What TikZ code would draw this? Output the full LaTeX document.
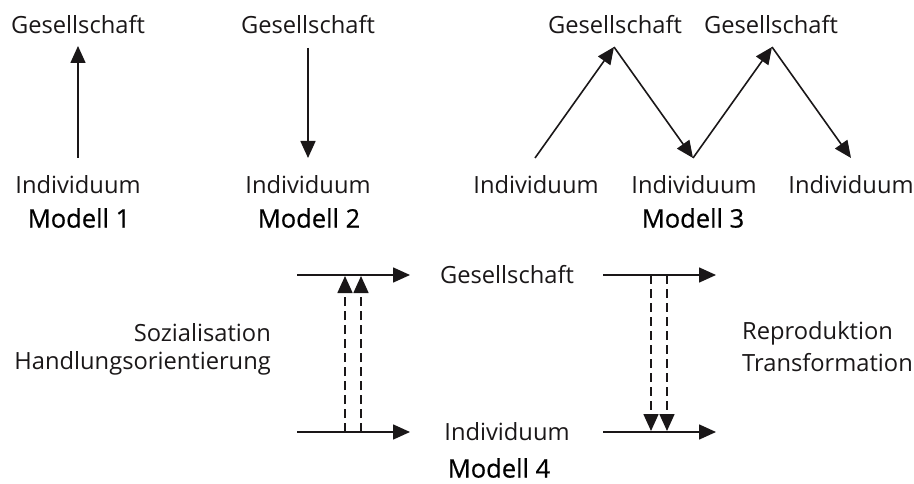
\documentclass[tikz,border=0pt]{standalone}
\usepackage{fontspec}
\setmainfont{Open Sans}
\newfontfamily\mdlfont[FakeBold=0.6]{Open Sans}
\usetikzlibrary{arrows.meta}
\definecolor{ink}{HTML}{1A1718}
\begin{document}
\begin{tikzpicture}[x=1pt,y=-1pt,
  lbl/.style={inner sep=0pt,text=ink,font=\fontsize{23.7}{28}\selectfont},
  mdl/.style={inner sep=0pt,text=black,font=\mdlfont\fontsize{25.5}{30}\selectfont},
  arr/.style={draw=ink,line width=1.6pt,-{Triangle[length=17pt,width=15pt]}},
  dsh/.style={arr,dash pattern=on 9pt off 5pt}]
\useasboundingbox (0,0) rectangle (914,484);
% Modell 1
\node[lbl] (g1) at (78,25) {Gesellschaft};
\node[lbl] (i1) at (78,185) {Individuum};
\node[mdl] (m1) at (79,218) {Modell 1};
\coordinate (a1s) at (78,158);
\coordinate (a1e) at (78,46);
\draw[arr] (a1s) -- (a1e);
% Modell 2
\node[lbl] (g2) at (308,25) {Gesellschaft};
\node[lbl] (i2) at (308,185) {Individuum};
\node[mdl] (m2) at (309,218) {Modell 2};
\coordinate (a2s) at (308,48);
\coordinate (a2e) at (308,158);
\draw[arr] (a2s) -- (a2e);
% Modell 3
\node[lbl] (g3a) at (615,25) {Gesellschaft};
\node[lbl] (g3b) at (771,25) {Gesellschaft};
\node[lbl] (i3a) at (536,185) {Individuum};
\node[lbl] (i3b) at (694,185) {Individuum};
\node[lbl] (i3c) at (851,185) {Individuum};
\node[mdl] (m3) at (693,218) {Modell 3};
\coordinate (p0) at (535,158);
\coordinate (p1) at (614,47);
\coordinate (p2) at (693,158);
\coordinate (p3) at (772,47);
\coordinate (p4) at (851,158);
\draw[arr] (p0) -- (p1);
\draw[arr] (p1) -- (p2);
\draw[arr] (p2) -- (p3);
\draw[arr] (p3) -- (p4);
% Modell 4
\node[lbl] (g4) at (507,275) {Gesellschaft};
\node[lbl] (i4) at (507,432) {Individuum};
\node[mdl] (m4) at (499,468) {Modell 4};
\node[lbl,anchor=east] (s1) at (271,333) {Sozialisation};
\node[lbl,anchor=east] (s2) at (271,363) {Handlungsorientierung};
\node[lbl,anchor=west] (r1) at (742,333) {Reproduktion};
\node[lbl,anchor=west] (r2) at (742,363) {Transformation};
\coordinate (tl0) at (297,275); \coordinate (tl1) at (410,275);
\coordinate (bl0) at (297,432); \coordinate (bl1) at (410,432);
\coordinate (tr0) at (603,275); \coordinate (tr1) at (716,275);
\coordinate (br0) at (603,432); \coordinate (br1) at (716,432);
\draw[arr] (tl0) -- (tl1);
\draw[arr] (bl0) -- (bl1);
\draw[arr] (tr0) -- (tr1);
\draw[arr] (br0) -- (br1);
\coordinate (ua0) at (345,432); \coordinate (ua1) at (345,276);
\coordinate (ub0) at (361,432); \coordinate (ub1) at (361,276);
\coordinate (da0) at (651,275); \coordinate (da1) at (651,431);
\coordinate (db0) at (667,275); \coordinate (db1) at (667,431);
\draw[dsh] (ua0) -- (ua1);
\draw[dsh] (ub0) -- (ub1);
\draw[dsh] (da0) -- (da1);
\draw[dsh] (db0) -- (db1);
\end{tikzpicture}
\end{document}
